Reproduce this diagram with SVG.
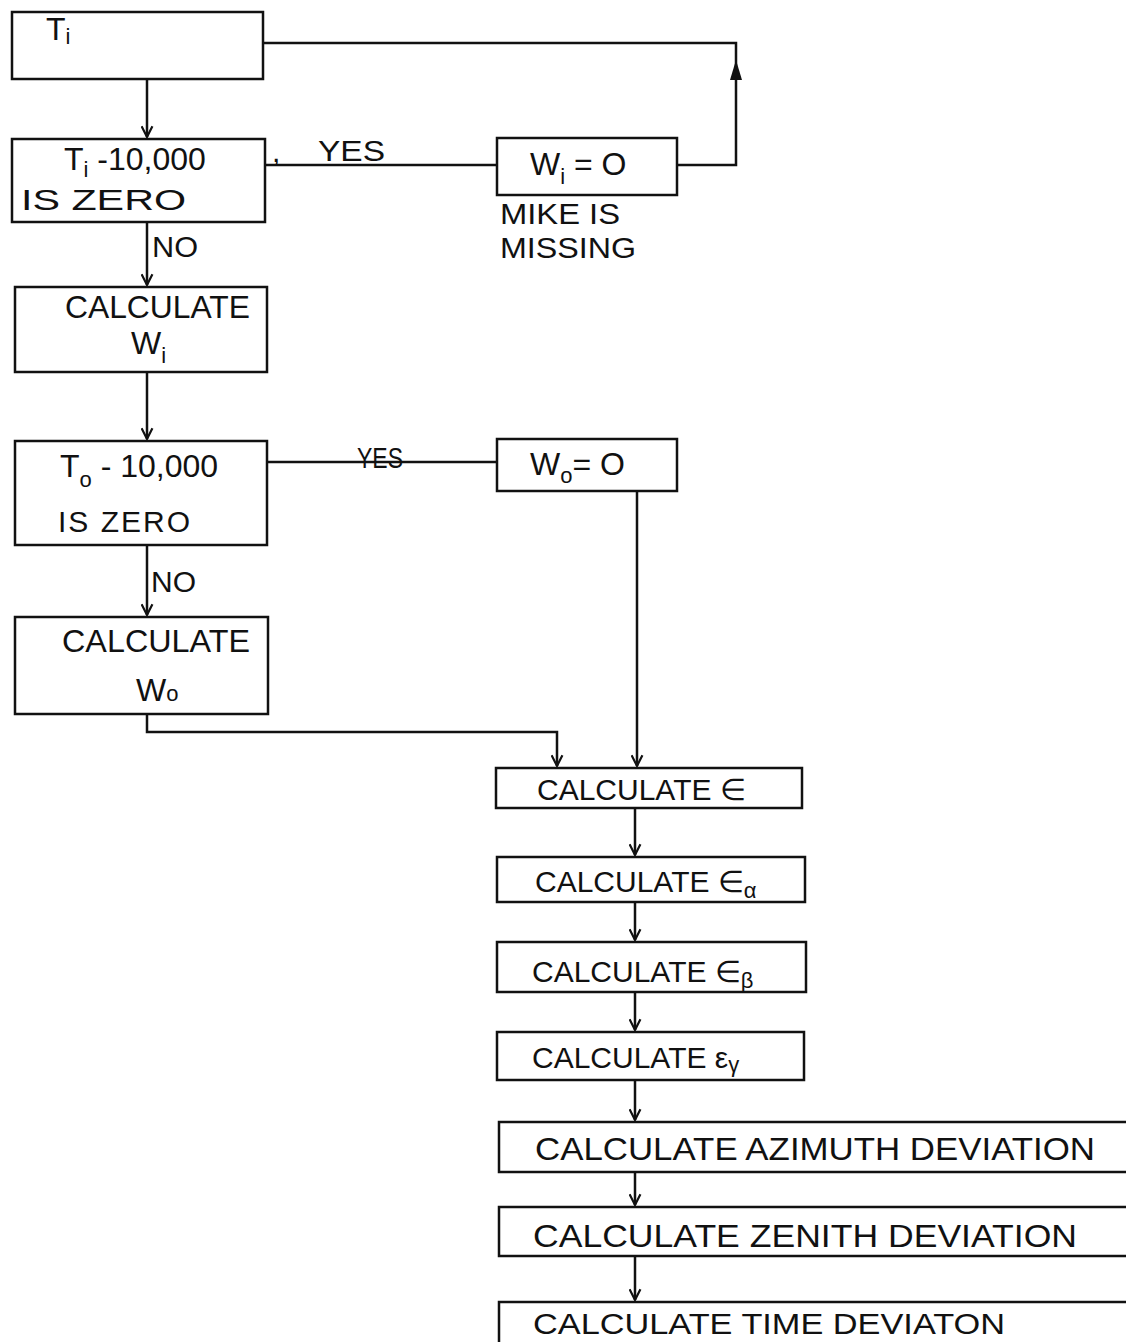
<svg xmlns="http://www.w3.org/2000/svg" width="1126" height="1342" viewBox="0 0 1126 1342">
<style>
.box{fill:#fff;stroke:#111;stroke-width:2.5}
.ln{fill:none;stroke:#111;stroke-width:2.5}
text{font-family:"Liberation Sans",Arial,sans-serif;font-size:30px;fill:#111}
.big{font-size:32px}
.sub{font-size:22px}
</style>
<defs>
<marker id="v" viewBox="0 0 12 12" refX="11" refY="6" markerWidth="13" markerHeight="13" markerUnits="userSpaceOnUse" orient="auto">
<path d="M1,1 L11,6 L1,11" fill="none" stroke="#111" stroke-width="2"/>
</marker>
</defs>
<rect width="1126" height="1342" fill="#fff"/>
<g id="connectors">
<path class="ln" d="M677,165 H736 V43 H263"/>
<polygon points="736,60 730,80 742,80" fill="#111"/>
<path class="ln" d="M147,79 V137" marker-end="url(#v)"/>
<path class="ln" d="M265,165 H497"/>
<path class="ln" d="M147,222 V285" marker-end="url(#v)"/>
<path class="ln" d="M147,372 V439" marker-end="url(#v)"/>
<path class="ln" d="M267,462 H497"/>
<path class="ln" d="M147,545 V615" marker-end="url(#v)"/>
<path class="ln" d="M147,714 V732 H557 V766" marker-end="url(#v)"/>
<path class="ln" d="M637,491 V766" marker-end="url(#v)"/>
<path class="ln" d="M635,808 V855" marker-end="url(#v)"/>
<path class="ln" d="M635,902 V940" marker-end="url(#v)"/>
<path class="ln" d="M635,992 V1030" marker-end="url(#v)"/>
<path class="ln" d="M635,1080 V1120" marker-end="url(#v)"/>
<path class="ln" d="M635,1172 V1205" marker-end="url(#v)"/>
<path class="ln" d="M635,1256 V1300" marker-end="url(#v)"/>
<text x="318" y="161" textLength="67" lengthAdjust="spacingAndGlyphs">YES</text>
<text x="272" y="162" font-size="22">,</text>
<text x="152" y="257" textLength="46" lengthAdjust="spacingAndGlyphs">NO</text>
<text x="357" y="468" textLength="46" lengthAdjust="spacingAndGlyphs">YES</text>
<text x="151" y="592" textLength="45" lengthAdjust="spacingAndGlyphs">NO</text>
</g>
<g id="n-ti">
<rect class="box" x="12" y="12" width="251" height="67"/>
<text x="46" y="40" class="big">T<tspan class="sub" dy="4">i</tspan></text>
</g>
<g id="n-ti-zero">
<rect class="box" x="12" y="139" width="253" height="83"/>
<text x="64" y="170" class="big">T<tspan class="sub" dy="7">i</tspan><tspan dy="-7"> -10,000</tspan></text>
<text x="21" y="210" font-size="32" textLength="165" lengthAdjust="spacingAndGlyphs">IS ZERO</text>
</g>
<g id="n-wi-zero">
<rect class="box" x="497" y="138" width="180" height="57"/>
<text x="530" y="175" class="big">W<tspan class="sub" dy="9">i</tspan><tspan dy="-9"> = O</tspan></text>
<text x="500" y="224" textLength="120" lengthAdjust="spacingAndGlyphs">MIKE IS</text>
<text x="500" y="258" textLength="136" lengthAdjust="spacingAndGlyphs">MISSING</text>
</g>
<g id="n-calc-wi">
<rect class="box" x="15" y="287" width="252" height="85"/>
<text x="65" y="318" class="big" textLength="185" lengthAdjust="spacingAndGlyphs">CALCULATE</text>
<text x="131" y="354" class="big">W<tspan class="sub" dy="9">i</tspan></text>
</g>
<g id="n-to-zero">
<rect class="box" x="15" y="441" width="252" height="104"/>
<text x="60" y="477" class="big">T<tspan class="sub" dy="10">o</tspan><tspan dy="-10"> - 10,000</tspan></text>
<text x="58" y="532" textLength="132" lengthAdjust="spacing">IS ZERO</text>
</g>
<g id="n-wo-zero">
<rect class="box" x="497" y="439" width="180" height="52"/>
<text x="530" y="475" class="big">W<tspan class="sub" dy="8">o</tspan><tspan dy="-8">= O</tspan></text>
</g>
<g id="n-calc-wo">
<rect class="box" x="15" y="617" width="253" height="97"/>
<text x="62" y="652" class="big" textLength="188" lengthAdjust="spacingAndGlyphs">CALCULATE</text>
<text x="136" y="701" class="big">W<tspan class="sub">o</tspan></text>
</g>
<g id="n-eps">
<rect class="box" x="496" y="768" width="306" height="40"/>
<text x="537" y="800">CALCULATE  ∈</text>
</g>
<g id="n-eps-a">
<rect class="box" x="497" y="857" width="308" height="45"/>
<text x="535" y="892">CALCULATE ∈<tspan class="sub" dy="6">α</tspan></text>
</g>
<g id="n-eps-b">
<rect class="box" x="497" y="942" width="309" height="50"/>
<text x="532" y="982">CALCULATE  ∈<tspan class="sub" dy="6">β</tspan></text>
</g>
<g id="n-eps-g">
<rect class="box" x="497" y="1032" width="307" height="48"/>
<text x="532" y="1068">CALCULATE ε<tspan class="sub" dy="4">γ</tspan></text>
</g>
<g id="n-azimuth">
<rect class="box" x="499" y="1122" width="640" height="50"/>
<text x="535" y="1160" class="big" textLength="560" lengthAdjust="spacingAndGlyphs">CALCULATE AZIMUTH  DEVIATION</text>
</g>
<g id="n-zenith">
<rect class="box" x="499" y="1207" width="640" height="49"/>
<text x="533" y="1247" class="big" textLength="544" lengthAdjust="spacingAndGlyphs">CALCULATE  ZENITH  DEVIATION</text>
</g>
<g id="n-time">
<rect class="box" x="499" y="1302" width="640" height="60"/>
<text x="533" y="1334" textLength="472" lengthAdjust="spacingAndGlyphs">CALCULATE  TIME  DEVIATON</text>
</g>
</svg>
